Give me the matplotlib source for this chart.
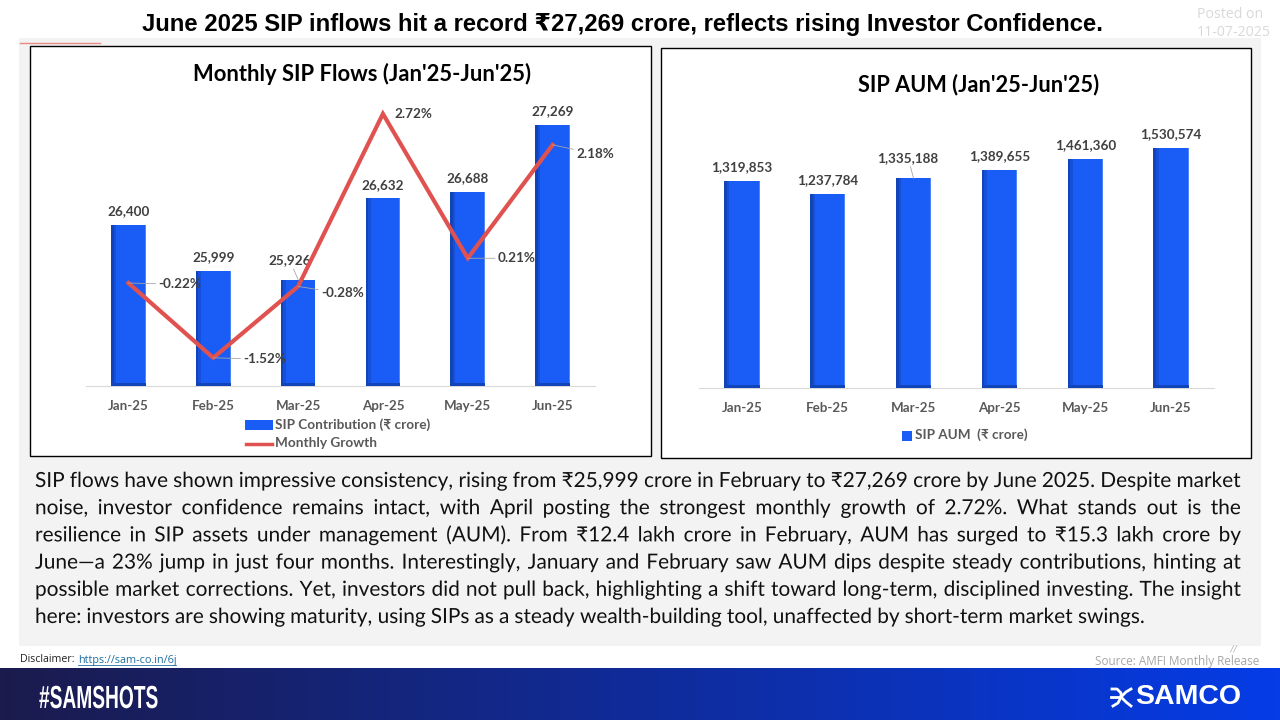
import numpy as np
import matplotlib
matplotlib.use("Agg")
import matplotlib.pyplot as plt
from matplotlib.patches import Rectangle
from matplotlib.patheffects import AbstractPathEffect
from matplotlib.transforms import Affine2D

# === DATA ===
months = ["Jan-25", "Feb-25", "Mar-25", "Apr-25", "May-25", "Jun-25"]
sip_flows = [26400, 25999, 25926, 26632, 26688, 27269]
growth = [-0.22, -1.52, -0.28, 2.72, 0.21, 2.18]
sip_aum = [1319853, 1237784, 1335188, 1389655, 1461360, 1530574]

main_title = "June 2025 SIP inflows hit a record ₹27,269 crore, reflects rising Investor Confidence."
body_lines = [
    "SIP flows have shown impressive consistency, rising from ₹25,999 crore in February to ₹27,269 crore by June 2025. Despite market",
    "noise, investor confidence remains intact, with April posting the strongest monthly growth of 2.72%. What stands out is the",
    "resilience in SIP assets under management (AUM). From ₹12.4 lakh crore in February, AUM has surged to ₹15.3 lakh crore by",
    "June—a 23% jump in just four months. Interestingly, January and February saw AUM dips despite steady contributions, hinting at",
    "possible market corrections. Yet, investors did not pull back, highlighting a shift toward long-term, disciplined investing. The insight",
    "here: investors are showing maturity, using SIPs as a steady wealth-building tool, unaffected by short-term market swings.",
]

W, H = 1280, 720
BLUE = "#1a5cf6"
DARK = "#1144b8"
MID = "#1650d8"
LIGHT = "#4f86f7"
RED = "#e0524f"
LABEL = "#404040"
FONT = ["Lato", "DejaVu Sans"]

plt.rcParams["font.family"] = FONT

fig = plt.figure(figsize=(12.8, 7.2), dpi=100, facecolor="white")


def px_axes(x0, y0, x1, y1, **kw):
    return fig.add_axes([x0 / W, 1 - y1 / H, (x1 - x0) / W, (y1 - y0) / H], **kw)


class Squeeze(AbstractPathEffect):
    # narrows a text horizontally around its left edge, the fonts here have no condensed cut
    # with factor 1 it only draws the glyphs as paths, which keeps words on one baseline
    def __init__(self, factor=1, x0=0):
        super().__init__()
        self.factor = factor
        self.x0 = x0

    def draw_path(self, renderer, gc, tpath, affine, rgbFace=None):
        squeeze = Affine2D().translate(-self.x0, 0).scale(self.factor, 1).translate(self.x0, 0)
        renderer.draw_path(gc, tpath, affine + squeeze, rgbFace)


# page background, in pixel coordinates
bg = px_axes(0, 0, W, H)
bg.set_xlim(0, W)
bg.set_ylim(H, 0)
bg.axis("off")
bg.add_patch(Rectangle((19, 38), 1242, 608, fc="#f3f3f3", ec="none"))
bg.plot([20, 100], [43, 43], color="#e88a80", lw=1)
bg.add_patch(Rectangle((30, 46), 621, 410, fc="white", ec="black", lw=1))
bg.add_patch(Rectangle((661, 48), 590, 410, fc="white", ec="black", lw=1))

grad = np.linspace(0, 1, 256)[None, :, None]
c0 = np.array([0x1b, 0x1b, 0x4d]) / 255
c1 = np.array([0x05, 0x3c, 0xe6]) / 255
bg.imshow(c0 + (c1 - c0) * grad, extent=(0, W, 720, 668), aspect="auto", zorder=1)
bg.set_xlim(0, W)
bg.set_ylim(H, 0)

bg.text(622, 25, main_title, ha="center", va="center", fontsize=17.2, fontweight="bold",
        family=["Liberation Sans", "DejaVu Sans"], color="black")
bg.text(1197, 14, "Posted on", fontsize=10.2, color="#d9d9d9", va="center", family="Open Sans")
bg.text(1197, 33, "11-07-2025", fontsize=10.2, color="#d9d9d9", va="center", family="Open Sans")

# justified body text, word by word
renderer = fig.canvas.get_renderer()
for i, line in enumerate(body_lines):
    y = 487 + i * 27.2
    words = line.split(" ")
    items = [bg.text(0, y, w, fontsize=15, color="#111111", va="baseline", path_effects=[Squeeze()])
             for w in words]
    widths = [t.get_window_extent(renderer).width for t in items]
    if i < len(body_lines) - 1:
        gap = (1241 - 35 - sum(widths)) / (len(words) - 1)
    else:
        gap = 5
    x = 35
    for t, w_px in zip(items, widths):
        t.set_x(x)
        x += w_px + gap

bg.text(20, 660, "Disclaimer: ", fontsize=7.7, color="#222222", va="center", family="Open Sans")
bg.text(78, 660, "https://sam-co.in/6j", fontsize=7.8, color="#1f6f9f", va="center", family="Open Sans")
bg.plot([78, 176], [665, 665], color="#1f6f9f", lw=0.6)
bg.text(1259, 661, "Source: AMFI Monthly Release", fontsize=8.5, color="#a6a6a6", va="center", ha="right",
        family="Open Sans")
bg.text(1229, 649, "//", fontsize=7, color="#a6a6a6", va="center", style="italic")

# footer branding
bg.text(39, 708, "#SAMSHOTS", fontsize=23, fontweight="bold", color="white", va="baseline",
        family="Liberation Sans", zorder=3, path_effects=[Squeeze(0.6, 39)])
bg.text(1241, 697, "SAMCO", fontsize=20.5, fontweight="bold", color="white", va="center", ha="right",
        family="Liberation Sans", zorder=3)
# swirl mark next to SAMCO
bg.plot([1112, 1117, 1121, 1121], [689, 689, 693, 697], color="white", lw=2, zorder=3)
bg.plot([1131, 1126, 1121, 1126, 1131], [689, 692, 697, 702, 706], color="white", lw=2, zorder=3)
bg.plot([1111, 1121], [697, 697], color="white", lw=2, zorder=3)
bg.plot([1113, 1118, 1121], [706, 703, 697], color="white", lw=2, zorder=3)


def draw_bars(ax, values, bottom):
    x = np.arange(len(values))
    heights = np.array(values) - bottom
    w = 0.41
    ax.bar(x, heights, width=w, bottom=bottom, color=BLUE, zorder=2)
    # shaded left side, light right rim and dark foot of each bar
    ax.bar(x - w / 2 + 0.015, heights, width=0.03, bottom=bottom, color=DARK, zorder=3)
    ax.bar(x - w / 2 + 0.045, heights, width=0.03, bottom=bottom, color=MID, zorder=3)
    ax.bar(x + w / 2 - 0.005, heights, width=0.01, bottom=bottom, color=LIGHT, zorder=3)
    foot = (ax.get_ylim()[1] - ax.get_ylim()[0]) * 0.012
    ax.bar(x, foot, width=w, bottom=bottom, color=DARK, zorder=3)


def style_axes(ax):
    ax.set_facecolor("none")
    ax.set_xlim(-0.5, 5.5)
    ax.set_xticks(range(6), months)
    ax.tick_params(axis="x", length=0, pad=10, labelsize=9.6, labelcolor="#595959")
    for lab in ax.get_xticklabels():
        lab.set_fontweight("bold")
    ax.set_yticks([])
    for side in ["top", "left", "right"]:
        ax.spines[side].set_visible(False)
    ax.spines["bottom"].set_color("#d9d9d9")


def value_labels(ax, values, offsets):
    for i, v in enumerate(values):
        off = offsets.get(i, (0, 5.5))
        arrow = dict(arrowstyle="-", color="#a6a6a6", lw=0.6, shrinkA=0, shrinkB=0) if i in offsets else None
        ax.annotate(f"{v:,}", (i, v), xytext=off, textcoords="offset points", ha="center", va="bottom",
                    fontsize=9.7, fontweight="bold", color=LABEL, zorder=6, arrowprops=arrow)


# === LEFT CHART ===
ax1 = px_axes(86, 100, 595, 386)
ax1.set_ylim(25000, 27487)
draw_bars(ax1, sip_flows, 25000)
style_axes(ax1)
value_labels(ax1, sip_flows, {2: (-6, 9.5)})

ax1b = ax1.twinx()
ax1b.set_ylim(-2.01, 2.96)
ax1b.set_yticks([])
ax1b.set_facecolor("none")
for s in ax1b.spines.values():
    s.set_visible(False)
ax1b.plot(range(6), growth, color=RED, lw=3, solid_joinstyle="miter", zorder=5)

# label offsets in points from each line vertex
growth_offsets = [(21.6, -1), (21.6, -1), (16.5, -5), (8, 0), (21.6, 0), (17, -6.5)]
for i, (g, off) in enumerate(zip(growth, growth_offsets)):
    arrow = None if i == 3 else dict(arrowstyle="-", color="#a6a6a6", lw=0.6, shrinkA=0, shrinkB=0)
    ax1b.annotate(f"{g:.2f}%", (i, g), xytext=off, textcoords="offset points", ha="left", va="center",
                  fontsize=9.7, fontweight="bold", color=LABEL, zorder=6, arrowprops=arrow)

bg.text(362, 74, "Monthly SIP Flows (Jan'25-Jun'25)", ha="center", va="center", fontsize=15.8,
        fontweight="bold", color="black", zorder=4)
bg.add_patch(Rectangle((245, 420), 28, 10, fc=BLUE, ec="none", zorder=4))
bg.plot([246, 272], [444, 444], color=RED, lw=2.5, zorder=4)
bg.text(275, 425, "SIP Contribution (₹ crore)", fontsize=9.8, fontweight="bold", color="#595959", va="center", zorder=4)
bg.text(275, 443, "Monthly Growth", fontsize=9.8, fontweight="bold", color="#595959", va="center", zorder=4)

# === RIGHT CHART ===
ax2 = px_axes(699, 100, 1214, 388)
ax2.set_ylim(0, 288 / 0.000157)
draw_bars(ax2, sip_aum, 0)
style_axes(ax2)
value_labels(ax2, sip_aum, {2: (-4, 10.5)})

bg.text(979, 85, "SIP AUM (Jan'25-Jun'25)", ha="center", va="center", fontsize=15.7,
        fontweight="bold", color="black", zorder=4)
bg.add_patch(Rectangle((902, 431), 10, 10, fc=BLUE, ec="none", zorder=4))
bg.text(915, 435, "SIP AUM  (₹ crore)", fontsize=9.7, fontweight="bold", color="#595959", va="center", zorder=4)

fig.savefig("out.png", dpi=100)
